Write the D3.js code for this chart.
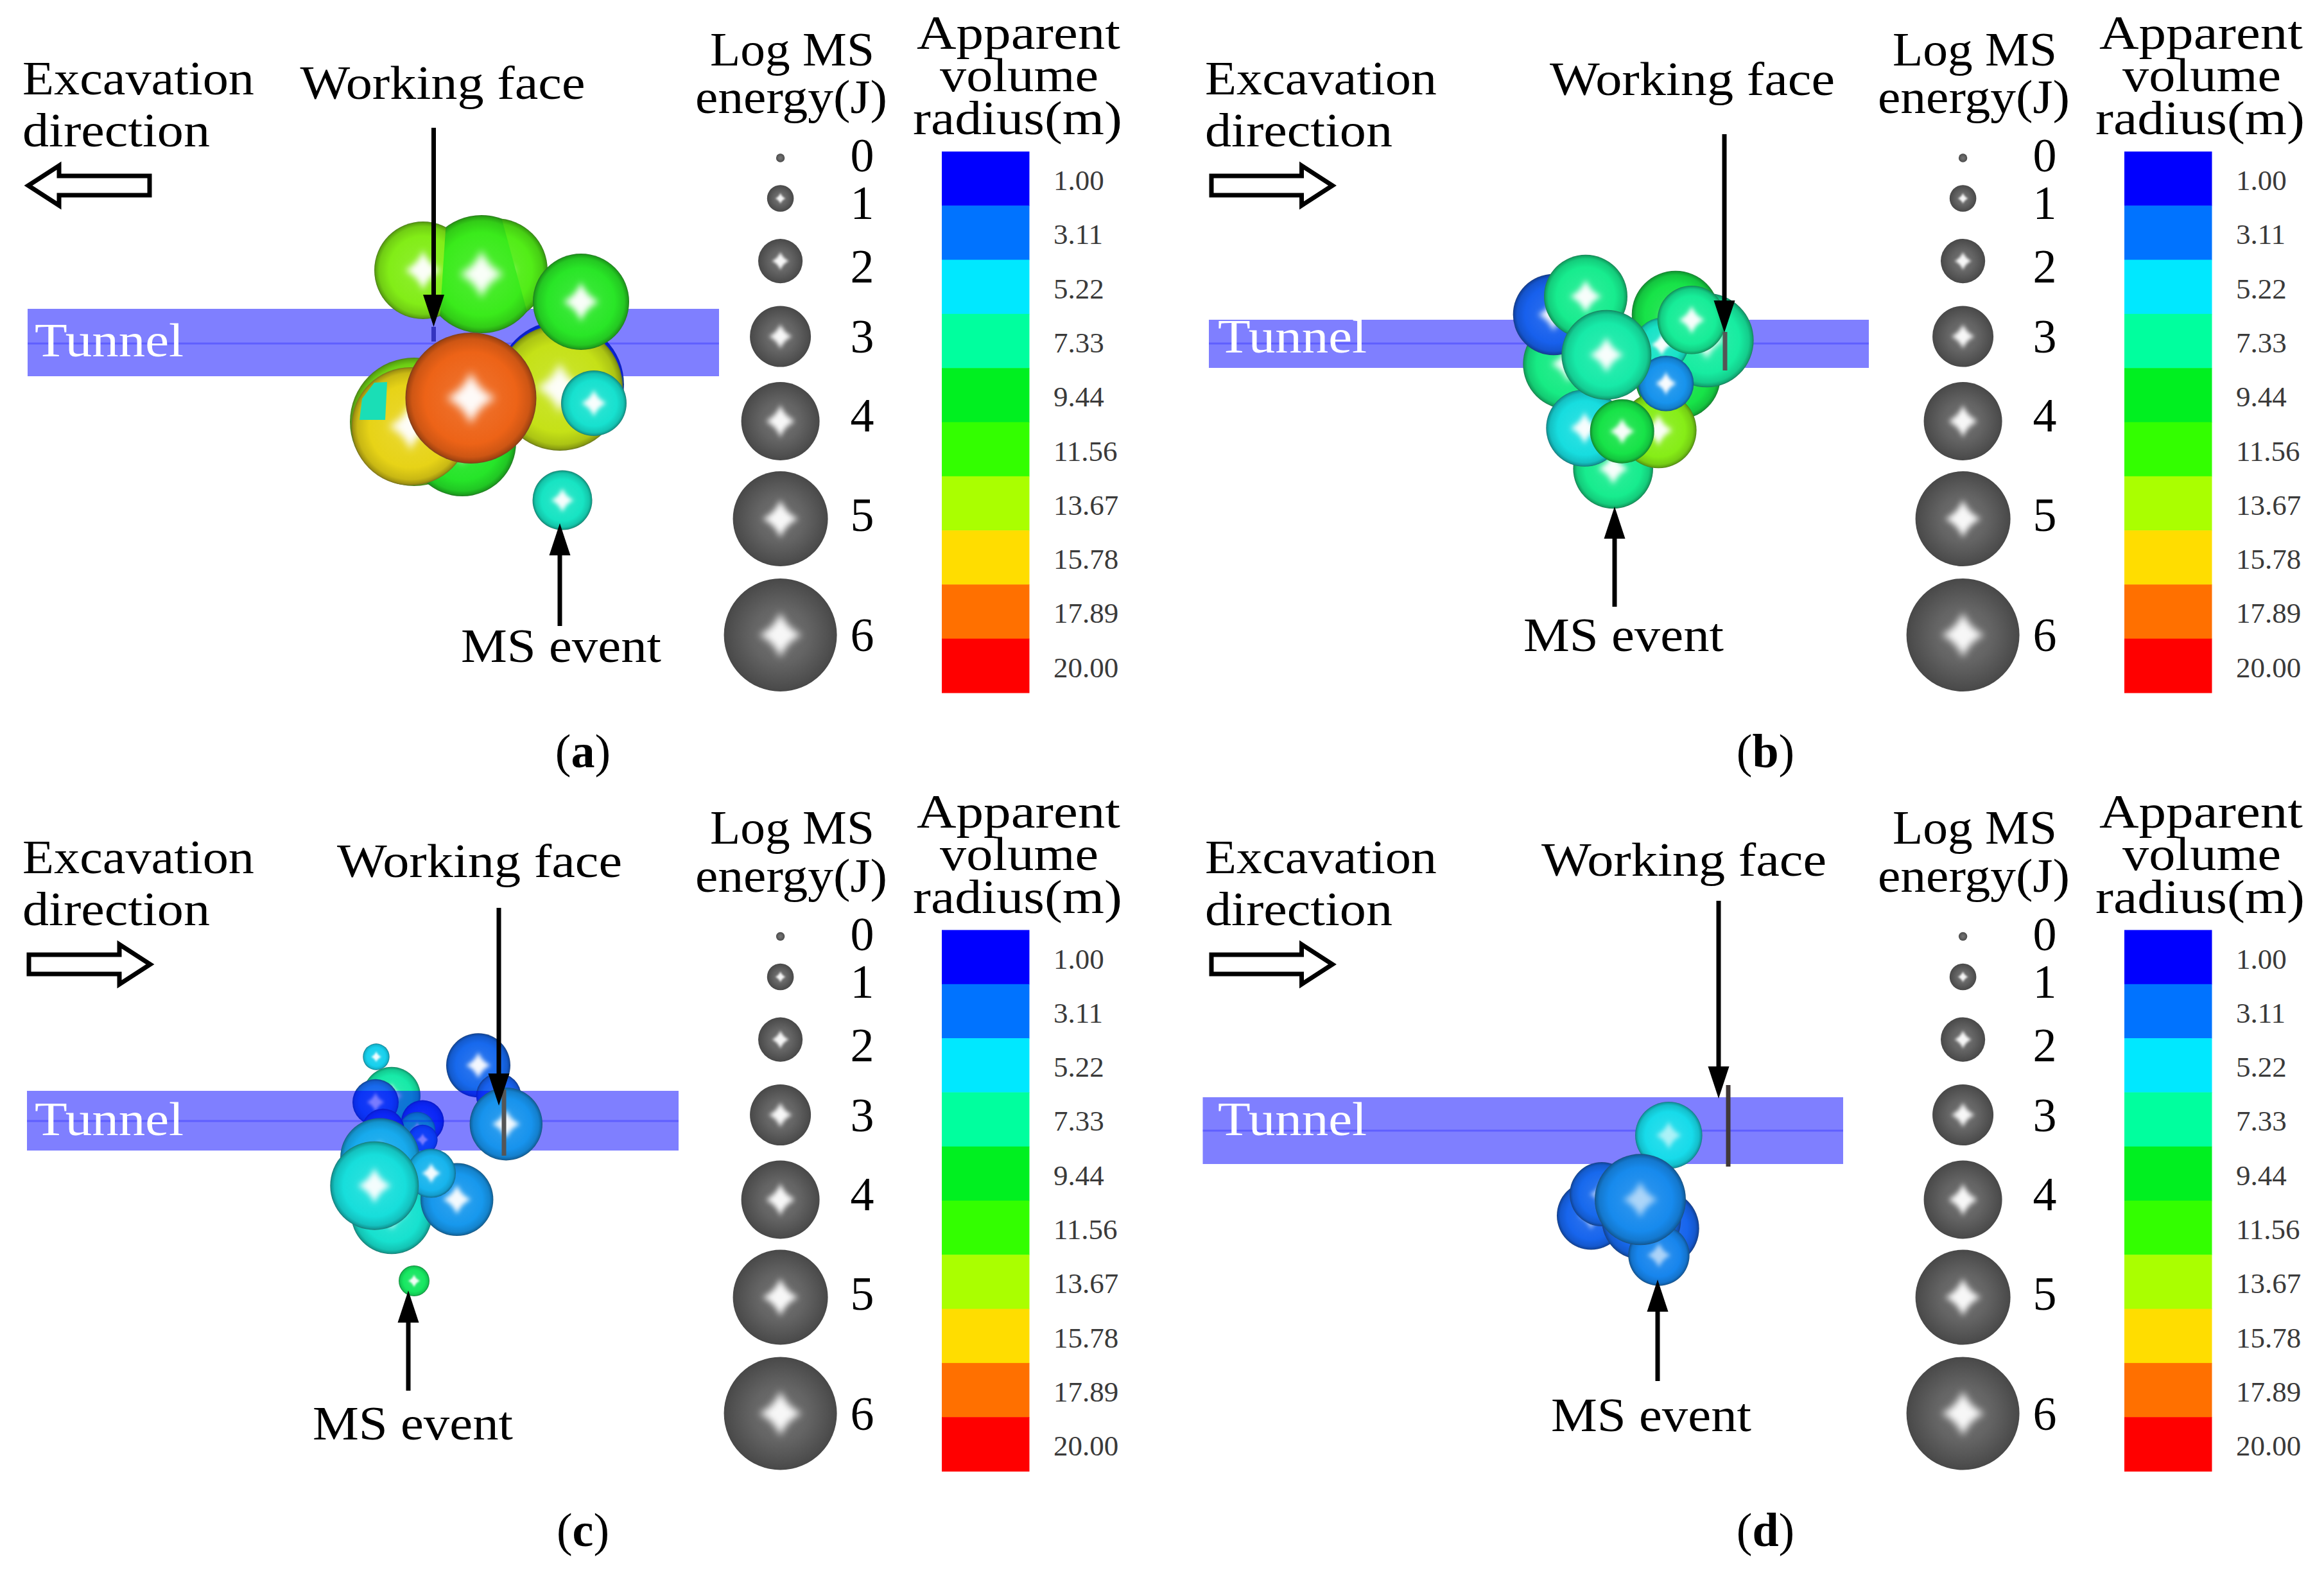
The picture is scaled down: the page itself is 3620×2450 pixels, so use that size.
<!DOCTYPE html>
<html><head><meta charset="utf-8">
<script src="https://cdnjs.cloudflare.com/ajax/libs/d3/7.8.5/d3.min.js"></script>
<style>html,body{margin:0;padding:0;background:#fff}svg{display:block}text{font-family:"Liberation Serif",serif}</style>
</head><body><svg id="c" width="3620" height="2450"></svg>
<script>
// ---------- legend data ----------
const energyLevels = [0,1,2,3,4,5,6];
const energyRadii  = [6.7,20.8,34.6,47.5,61,74,88];
const radiusLabels = ["1.00","3.11","5.22","7.33","9.44","11.56","13.67","15.78","17.89","20.00"];
const radiusColors = ["#0000ff","#0073ff","#00e8ff","#00ff9e","#00f020","#33ff00","#aaff00","#ffdd00","#ff7000","#ff0000"];
// ---------- MS events: [along tunnel, across tunnel, sphere size, apparent volume radius] ----------
const behindA = [[87.3,59.9,9.9,2.6]];
const eventsA = [[64.5,65.7,10.0,12.8],[72.0,68.9,8.4,10.2],[87.2,60.4,9.8,14.6],[65.9,42.1,7.6,12.9],[77.2,42.1,8.1,11.9],[75.0,42.7,9.2,11.2],[63.95,66.4,9.2,15.6],[73.35,62.0,10.2,18.3],[92.5,62.8,5.1,6.0],[90.5,47.0,7.5,10.3],[87.6,77.9,4.65,6.3]];
const meetsA  = [[5,3],[5,4]];
const patchA  = [[56,65.4],[60,65.4],[60.3,59.5],[58.3,59.6],[56.4,62.1]];
const patchValueA = 6.5;
const eventsB = [[63.3,56.7,7.07,7.8],[61,49,6.33,2.6],[80,49,6.83,9],[80.33,58.67,6.67,9],[84.83,53,7.33,7.2],[77.83,53.67,4.17,6.2],[70.27,73,6.23,7.6],[77.33,67,5.93,13],[65.83,66.67,6,5.6],[71.67,67.17,5,9],[78.5,59.73,4.33,3.7],[66,46.17,6.5,7.6],[69.23,55.27,7,7],[82.5,49.83,5.33,7.4]];
const behindC = [[58.6,42.1,2.07,5],[61,48.17,4.5,7],[65.83,52.17,3.33,2.2],[65,53.5,2.83,7],[65.83,55,2.33,3.2],[58.5,49.17,3.6,2.8],[59.67,53.5,3.33,2.2],[74.5,43.43,5,2.8],[77.67,48.17,3.5,2.6]];
const eventsC = [[59.17,57.83,6.17,4.2],[78.83,52.57,5.67,3.7],[61,66.5,6.33,6],[71.17,64.33,5.67,3.8],[67.17,60.23,3.83,4.4],[58.33,62.17,6.9,5.7],[64.5,77,2.4,8.5]];
const eventsD = [[78.93,54.33,5.23,5.3],[66.83,66.83,5.33,2.7],[68.5,63.5,5,2.8],[77.67,68.83,6,2.7],[74.67,67.5,6.17,2.8],[77.4,73,4.77,3.4],[74.5,64.33,7.1,3.5]];
// ---------- tunnels [x0,x1,y0,y1,axis], working-face line [x,y0,y1], arrows [x,tail,tip] ----------
const tunnels   = [[4.3,112,48.1,58.6,53.5],[7.3,110.1,49.8,57.3,53.5],[4.2,105.7,47.4,56.7,52.1],[6.35,106.1,48.4,58.8,53.6]];
const faceLines = [[67.55,50.9,53.2],[87.7,51.7,57.7],[78.5,47.2,57.5],[88.2,46.5,59.2]];
const faceArrows= [[67.55,19.9,50.9],[87.6,20.9,51.8],[77.7,18.9,49.7],[86.7,17.8,48.6]];
const msArrows  = [[87.2,97.5,81.5],[70.5,94.5,78.9],[63.6,94.1,78.5],[77.2,92.6,76.8]];
const dirArrows = [[23.3,4.4,28.9],[7.7,26.55,28.9],[4.5,23.4,27.7],[7.7,26.55,27.7]];
const panelNames = ["a","b","c","d"];

// ---------- layout ----------
const origins = [[0,0],[1810,0],[0,1225],[1810,1225]];
const legendOff = [[0,0],[32,0],[0,-12.5],[32,-12.5]];
const wfText = [[467.5,154],[604,148],[525,140.6],[591,139]];
const msText = [[718,1031],[563,1014],[487,1017],[606,1004]];
const tuText = [[54,555],[87,549],[54,543],[87,543]];
const nameText = [[908,1195],[940,1195],[908,1183],[940,1183]];
const excavX = [35,67,35,67];
const legendCenters = [246,309,406.6,524,656,808,989];
const numberBase = [267,341,440,549,672,827,1014];

const svg = d3.select("#c");
const defs = svg.append("defs");
const blur = defs.append("filter").attr("id","soft").attr("primitiveUnits","objectBoundingBox")
  .attr("x","-50%").attr("y","-50%").attr("width","200%").attr("height","200%");
blur.append("feGaussianBlur").attr("stdDeviation",0.085);

const xS = d3.scaleLinear().domain([0,100]).range([0,1000]);
const yS = d3.scaleLinear().domain([0,100]).range([0,1000]);
const rS = d3.scaleLinear().domain([0,10]).range([0,100]);
const energyS = d3.scaleLinear().domain(energyLevels).range(energyRadii);
const colorS = d3.scaleLinear().domain(radiusLabels.map(Number)).range(radiusColors).interpolate(d3.interpolateRgb);
const barY = d3.scaleBand().domain(radiusLabels).range([236,1079]);

let gid = 0; const gradCache = new Map();
function gradient(base){
  if(gradCache.has(base)) return gradCache.get(base);
  const id = "g"+(gid++), g = defs.append("radialGradient").attr("id",id);
  const c = d3.interpolateRgb(base,"#909090")(0.16);
  const stops = [[0,d3.interpolateRgb(c,"#fff")(.12)],[.7,c],[.9,d3.interpolateRgb(c,"#000")(.13)],[.97,d3.interpolateRgb(c,"#000")(.3)],[1,d3.interpolateRgb(c,"#222")(.55)]];
  g.selectAll("stop").data(stops).join("stop").attr("offset",d=>d[0]).attr("stop-color",d=>d[1]);
  gradCache.set(base,id); return id;
}
const greyG = defs.append("radialGradient").attr("id","grey");
[[0,"#757575"],[.5,"#646464"],[.9,"#4e4e4e"],[1,"#484848"]].forEach(s=>greyG.append("stop").attr("offset",s[0]).attr("stop-color",s[1]));

function diamond(h){ const k=h*.28; return `M0,${-h}Q${k},${-k} ${h*.95},0Q${k},${k} 0,${h}Q${-k},${k} ${-h*.95},0Q${-k},${-k} 0,${-h}Z`; }
function clipHalf(poly,px,py,ux,uy,a){
  const out=[]; const f=p=>(p[0]-px)*ux+(p[1]-py)*uy-a;
  poly.forEach((p,i)=>{const q=poly[(i+1)%poly.length],fp=f(p),fq=f(q);
    if(fp>=0)out.push(p);
    if(fp*fq<0){const t=fp/(fp-fq);out.push([p[0]+t*(q[0]-p[0]),p[1]+t*(q[1]-p[1])]);}});
  return out;
}
function drawSpheres(g,data,meets,tag,glow){
  const sel = g.selectAll("g.s"+tag).data(data).join("g").attr("class","s"+tag)
    .attr("clip-path",(d,j)=>{
      const mine=(meets||[]).filter(m=>m[0]===j); if(!mine.length) return null;
      const cx=xS(d[0]),cy=yS(d[1]),r=rS(d[2]);
      let poly=[[cx-r-4,cy-r-4],[cx+r+4,cy-r-4],[cx+r+4,cy+r+4],[cx-r-4,cy+r+4]];
      mine.forEach(m=>{const o=data[m[1]],ox=xS(o[0]),oy=yS(o[1]),or=rS(o[2]);
        const dd=Math.hypot(cx-ox,cy-oy),a=(dd*dd+or*or-r*r)/(2*dd);
        poly=clipHalf(poly,ox,oy,(cx-ox)/dd,(cy-oy)/dd,a);});
      const id=`cut${tag}${j}`;
      defs.append("clipPath").attr("id",id).append("polygon").attr("points",poly.map(p=>p.join(",")).join(" "));
      return `url(#${id})`;
    });
  sel.append("circle").attr("cx",d=>xS(d[0])).attr("cy",d=>yS(d[1])).attr("r",d=>rS(d[2]))
    .attr("fill",d=>`url(#${gradient(colorS(d[3]))})`);
  sel.append("path").attr("transform",d=>`translate(${xS(d[0])},${yS(d[1])})`).attr("d",d=>diamond(rS(d[2])*.4))
    .attr("fill","#fff").attr("opacity",glow).attr("filter","url(#soft)");
}
function solidArrow(g,a){
  const x=xS(a[0]),t=yS(a[1]),p=yS(a[2]),dir=p>t?1:-1;
  g.append("line").attr("x1",x).attr("x2",x).attr("y1",t).attr("y2",p-dir*45).attr("stroke","#000").attr("stroke-width",7);
  g.append("path").attr("d",d3.line()([[x,p],[x-16.5,p-dir*50],[x+16.5,p-dir*50]])+"Z").attr("fill","#000");
}
function hollowArrow(g,a){
  const t=xS(a[0]),p=xS(a[1]),y=yS(a[2]),dir=p>t?1:-1,b=p-dir*48;
  g.append("path").attr("d",d3.line()([[t,y-15],[b,y-15],[b,y-31],[p,y],[b,y+31],[b,y+15],[t,y+15]])+"Z")
    .attr("fill","#fff").attr("stroke","#000").attr("stroke-width",7).attr("stroke-miterlimit",6);
}
function label(g,str,x,y,w,size,fill){
  return g.append("text").attr("x",x).attr("y",y).attr("font-size",size||74).attr("fill",fill||"#000")
    .attr("textLength",w).attr("lengthAdjust","spacingAndGlyphs").text(str);
}

const panelData = [
 {behind:behindA,events:eventsA,meets:meetsA,glow:.97},
 {behind:[],events:eventsB,meets:[],glow:.97},
 {behind:behindC,events:eventsC,meets:[],glow:.95},
 {behind:[],events:eventsD,meets:[],glow:.6}];
const lineCol = ["#3434c0","#555","#555","#403838"];

panelNames.forEach((nm,i)=>{
  const g = svg.append("g").attr("transform",`translate(${origins[i]})`);
  const P = panelData[i];
  drawSpheres(g.append("g"),P.behind,[], nm+"b",P.glow);
  const T = tunnels[i];
  g.append("rect").attr("x",xS(T[0])).attr("y",yS(T[2])).attr("width",xS(T[1])-xS(T[0])).attr("height",yS(T[3])-yS(T[2]))
    .attr("fill","#0000ff").attr("opacity",.5);
  g.append("line").attr("x1",xS(T[0])).attr("x2",xS(T[1])).attr("y1",yS(T[4])).attr("y2",yS(T[4]))
    .attr("stroke","#0000ff").attr("stroke-opacity",.25).attr("stroke-width",3);
  label(g,"Tunnel",tuText[i][0],tuText[i][1],232,74,"#fff");
  const F = faceLines[i];
  const face = ()=>g.append("line").attr("x1",xS(F[0])).attr("x2",xS(F[0])).attr("y1",yS(F[1])).attr("y2",yS(F[2]))
    .attr("stroke",lineCol[i]).attr("stroke-width",7);
  if(i===0) face();
  const front = g.append("g");
  drawSpheres(front,P.events,P.meets,nm+"f",P.glow);
  if(i===0){
    front.insert("path","g.s"+nm+"f:nth-of-type(8)").attr("d",d3.line().x(d=>xS(d[0])).y(d=>yS(d[1])).curve(d3.curveLinearClosed)(patchA))
      .attr("fill",d3.interpolateRgb(colorS(patchValueA),"#808080")(.2));
  }
  if(i!==0) face();
  solidArrow(g,faceArrows[i]);
  solidArrow(g,msArrows[i]);
  hollowArrow(g,dirArrows[i]);
  label(g,"Working face",wfText[i][0],wfText[i][1],444);
  label(g,"MS event",msText[i][0],msText[i][1],312);
  const L = legendOff[i];
  label(g,"Excavation",excavX[i],147+L[1],361);
  label(g,"direction",excavX[i],228+L[1],292);
  const t = g.append("text").attr("x",nameText[i][0]).attr("y",nameText[i][1]).attr("font-size",74).attr("text-anchor","middle");
  t.append("tspan").text("(");
  t.append("tspan").attr("font-weight","bold").text(nm);
  t.append("tspan").text(")");
  const lg = g.append("g").attr("transform",`translate(${L})`);
  label(lg,"Log MS",1106,101.6,256);
  label(lg,"energy(J)",1083,176,299);
  label(lg,"Apparent",1428,76,317);
  label(lg,"volume",1464,142,247);
  label(lg,"radius(m)",1422,209,326);
  const items = lg.selectAll("g.e").data(energyLevels).join("g").attr("class","e")
    .attr("transform",(d,k)=>`translate(1215.6,${legendCenters[k]})`);
  items.append("circle").attr("r",d=>energyS(d)).attr("fill","url(#grey)");
  items.append("path").attr("d",d=>diamond(energyS(d)*.4)).attr("fill","#fff").attr("opacity",d=>d===0?0:.95).attr("filter","url(#soft)");
  lg.selectAll("text.n").data(energyLevels).join("text").attr("class","n").attr("x",1343).attr("y",(d,k)=>numberBase[k])
    .attr("text-anchor","middle").attr("font-size",74).text(d=>d);
  lg.selectAll("rect.b").data(radiusLabels).join("rect").attr("class","b").attr("x",1467).attr("width",136.5)
    .attr("y",d=>barY(d)).attr("height",barY.bandwidth()+.5).attr("fill",(d,k)=>radiusColors[k]);
  lg.selectAll("text.l").data(radiusLabels).join("text").attr("class","l").attr("x",1641).attr("y",d=>barY(d)+60)
    .attr("font-size",45).attr("fill","#3a3a3a").text(d=>d);
});
</script></body></html>
